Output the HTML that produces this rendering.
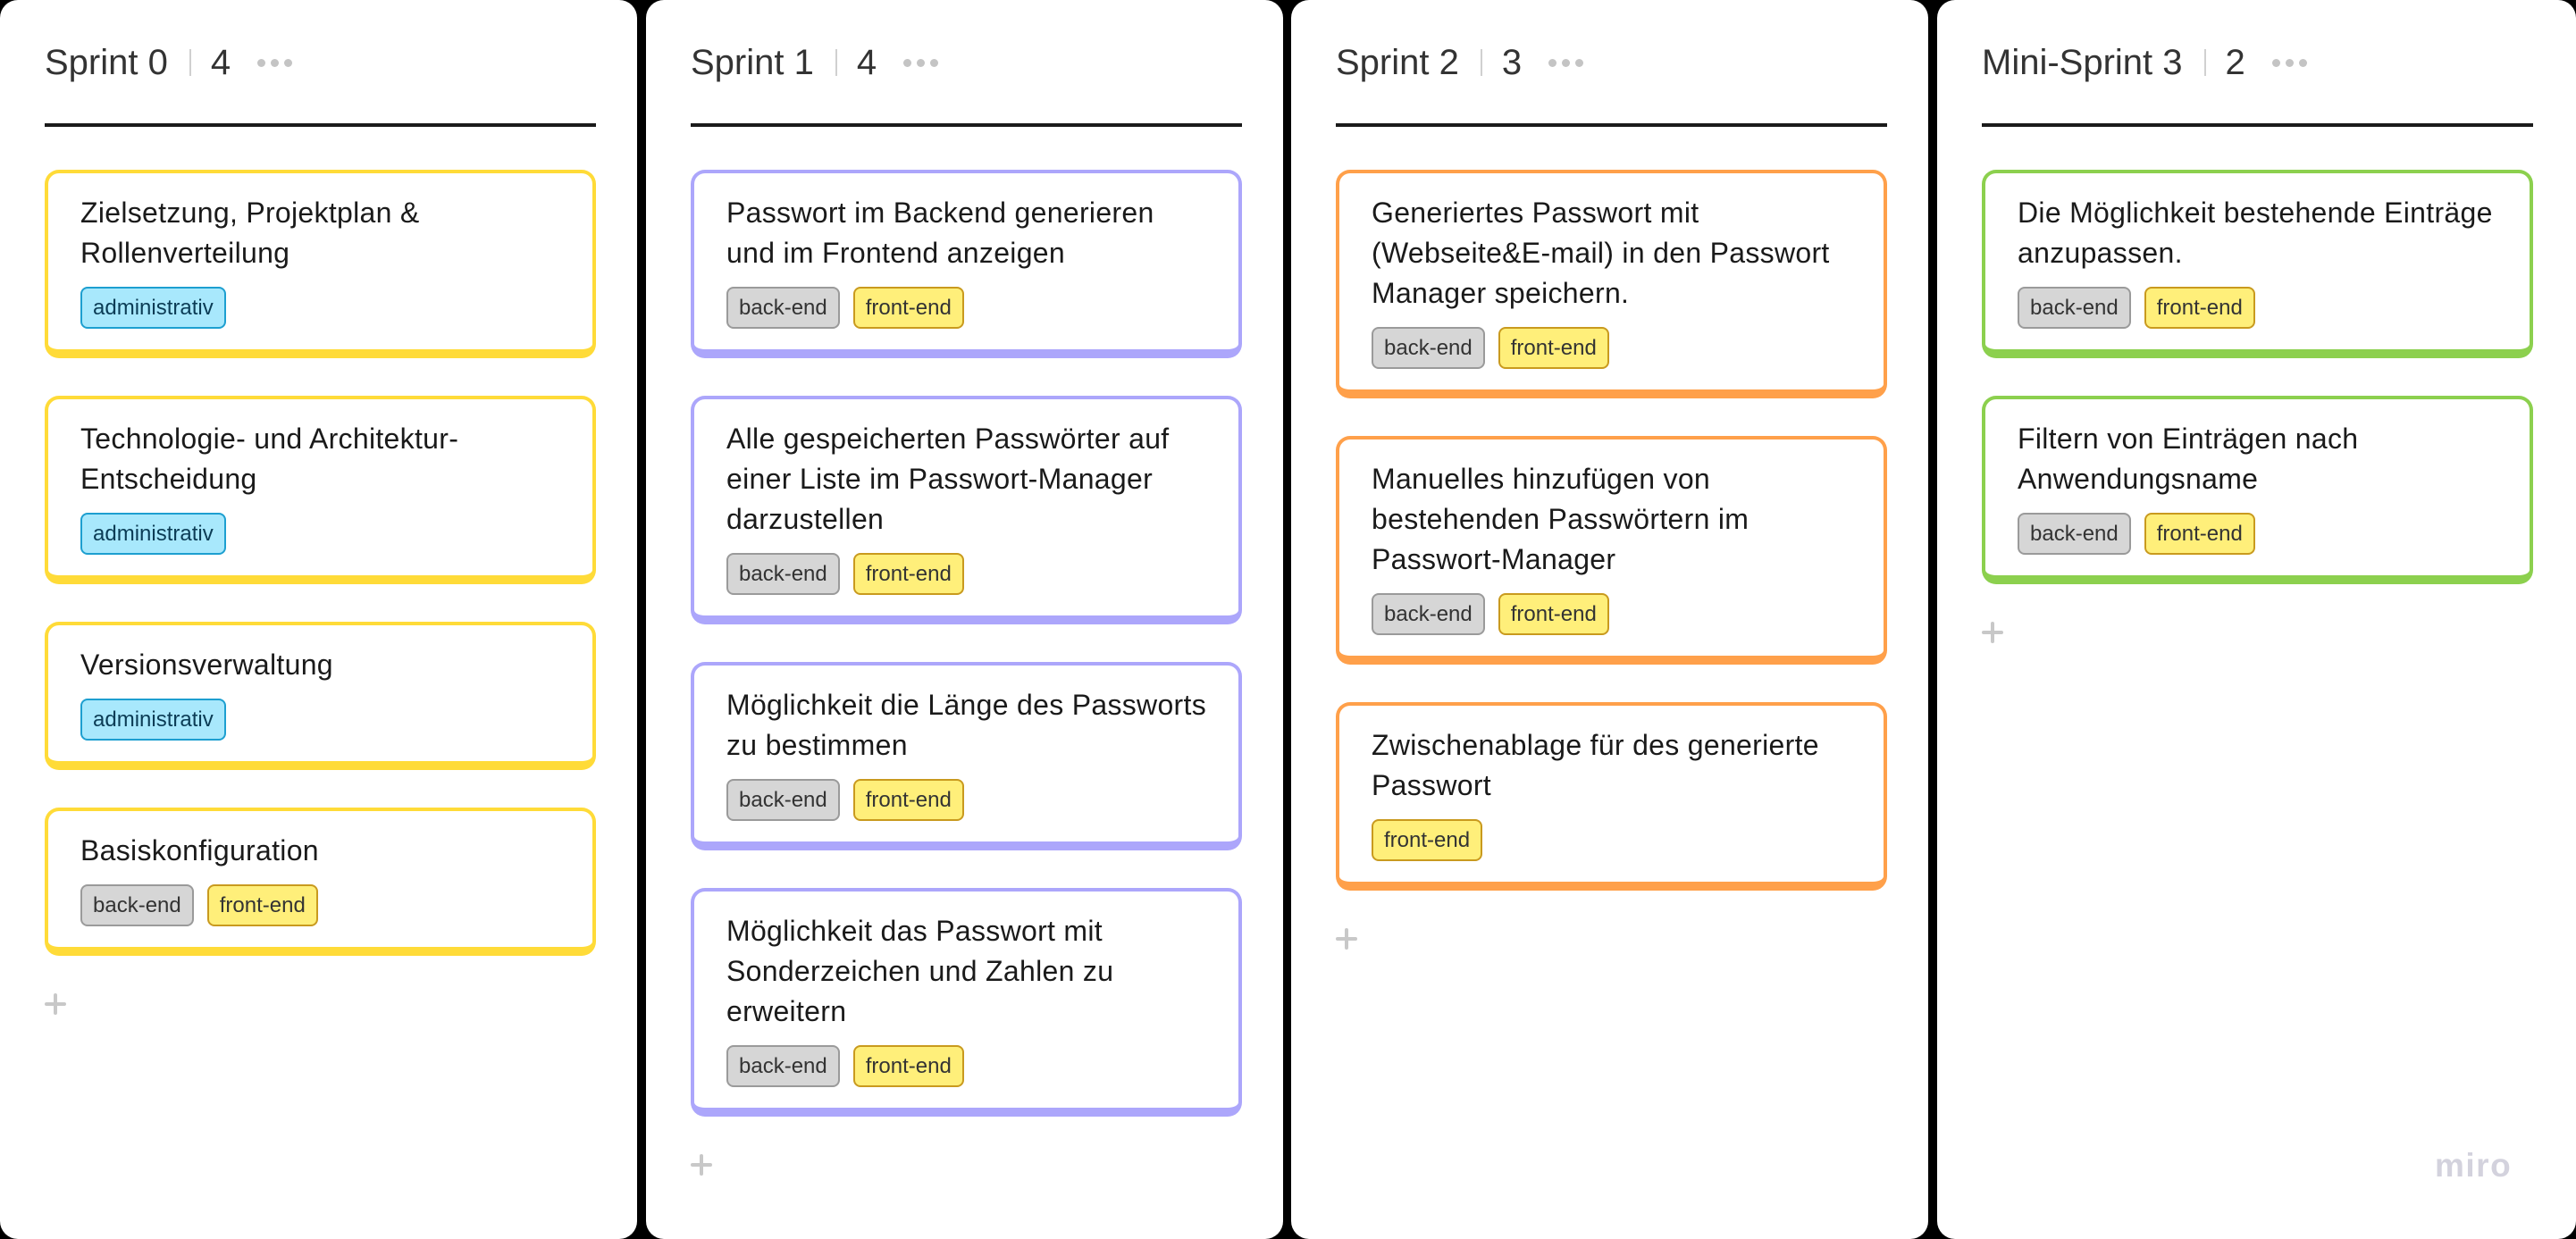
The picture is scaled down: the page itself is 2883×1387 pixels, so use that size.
<!DOCTYPE html>
<html><head><meta charset="utf-8">
<style>
*{box-sizing:border-box;margin:0;padding:0}
html,body{width:2883px;height:1387px;background:#000;overflow:hidden}
body{position:relative;font-family:"Liberation Sans",sans-serif;color:#1a1a1a}
.col{position:absolute;top:0;height:1387px;background:#fff;border-radius:20px}
.hdr{position:absolute;left:50px;top:44px;height:52px;display:flex;align-items:center;font-size:40px;color:#333;white-space:nowrap}
.sep{display:inline-block;width:2px;height:30px;background:#d0d0d0;margin:0 22px 0 24px}
.dots{display:inline-flex;gap:6px;margin-left:30px}
.dots i{width:9px;height:9px;border-radius:50%;background:#c4c4c4;display:block}
.line{position:absolute;left:50px;width:617px;top:138px;height:4px;background:#1a1a1a}
.cards{position:absolute;left:50px;top:190px;width:617px}
.card{border:4px solid;border-bottom-width:10px;border-radius:16px;padding:22px 20px 23px 36px;margin-bottom:42px;background:#fff}
.card p{font-size:32px;line-height:45px;white-space:nowrap;letter-spacing:0.3px}
.tags{display:flex;gap:15px;margin-top:15px}
.tag{height:47px;border:2px solid;border-radius:8px;font-size:24px;line-height:43px;padding:0 12px;color:#333}
.be{background:#d6d6d6;border-color:#9a9a9a}
.fe{background:#ffef7a;border-color:#c99a1e}
.ad{background:#a8e8fc;border-color:#1d9fd0;color:#0b3c55}
.y{border-color:#ffdb38}.p{border-color:#aca6fb}.o{border-color:#ffa04a}.g{border-color:#8cd04e}
.plus{position:relative;width:24px;height:24px;margin-top:14px;margin-left:0}
.plus:before,.plus:after{content:"";position:absolute;background:#c8c8c8;border-radius:2px}
.plus:before{left:10px;top:0;width:4px;height:24px}
.plus:after{top:10px;left:0;height:4px;width:24px}
.miro{position:absolute;left:2725px;top:1284px;font-size:37px;font-weight:bold;color:#d3d2dd;letter-spacing:1.5px}
</style></head><body>

<div class="col" style="left:0;width:713px">
 <div class="hdr">Sprint 0<span class="sep"></span>4<span class="dots"><i></i><i></i><i></i></span></div>
 <div class="line"></div>
 <div class="cards">
  <div class="card y"><p>Zielsetzung, Projektplan &amp;<br>Rollenverteilung</p><div class="tags"><span class="tag ad">administrativ</span></div></div>
  <div class="card y"><p>Technologie- und Architektur-<br>Entscheidung</p><div class="tags"><span class="tag ad">administrativ</span></div></div>
  <div class="card y"><p>Versionsverwaltung</p><div class="tags"><span class="tag ad">administrativ</span></div></div>
  <div class="card y"><p>Basiskonfiguration</p><div class="tags"><span class="tag be">back-end</span><span class="tag fe">front-end</span></div></div>
  <div class="plus"></div>
 </div>
</div>

<div class="col" style="left:723px;width:713px">
 <div class="hdr">Sprint 1<span class="sep"></span>4<span class="dots"><i></i><i></i><i></i></span></div>
 <div class="line"></div>
 <div class="cards">
  <div class="card p"><p>Passwort im Backend generieren<br>und im Frontend anzeigen</p><div class="tags"><span class="tag be">back-end</span><span class="tag fe">front-end</span></div></div>
  <div class="card p"><p>Alle gespeicherten Passwörter auf<br>einer Liste im Passwort-Manager<br>darzustellen</p><div class="tags"><span class="tag be">back-end</span><span class="tag fe">front-end</span></div></div>
  <div class="card p"><p>Möglichkeit die Länge des Passworts<br>zu bestimmen</p><div class="tags"><span class="tag be">back-end</span><span class="tag fe">front-end</span></div></div>
  <div class="card p"><p>Möglichkeit das Passwort mit<br>Sonderzeichen und Zahlen zu<br>erweitern</p><div class="tags"><span class="tag be">back-end</span><span class="tag fe">front-end</span></div></div>
  <div class="plus"></div>
 </div>
</div>

<div class="col" style="left:1445px;width:713px">
 <div class="hdr">Sprint 2<span class="sep"></span>3<span class="dots"><i></i><i></i><i></i></span></div>
 <div class="line"></div>
 <div class="cards">
  <div class="card o"><p>Generiertes Passwort mit<br>(Webseite&amp;E-mail) in den Passwort<br>Manager speichern.</p><div class="tags"><span class="tag be">back-end</span><span class="tag fe">front-end</span></div></div>
  <div class="card o"><p>Manuelles hinzufügen von<br>bestehenden Passwörtern im<br>Passwort-Manager</p><div class="tags"><span class="tag be">back-end</span><span class="tag fe">front-end</span></div></div>
  <div class="card o"><p>Zwischenablage für des generierte<br>Passwort</p><div class="tags"><span class="tag fe">front-end</span></div></div>
  <div class="plus"></div>
 </div>
</div>

<div class="col" style="left:2168px;width:715px">
 <div class="hdr">Mini-Sprint 3<span class="sep"></span>2<span class="dots"><i></i><i></i><i></i></span></div>
 <div class="line"></div>
 <div class="cards">
  <div class="card g"><p>Die Möglichkeit bestehende Einträge<br>anzupassen.</p><div class="tags"><span class="tag be">back-end</span><span class="tag fe">front-end</span></div></div>
  <div class="card g"><p>Filtern von Einträgen nach<br>Anwendungsname</p><div class="tags"><span class="tag be">back-end</span><span class="tag fe">front-end</span></div></div>
  <div class="plus"></div>
 </div>
</div>

<div class="miro">miro</div>
</body></html>
